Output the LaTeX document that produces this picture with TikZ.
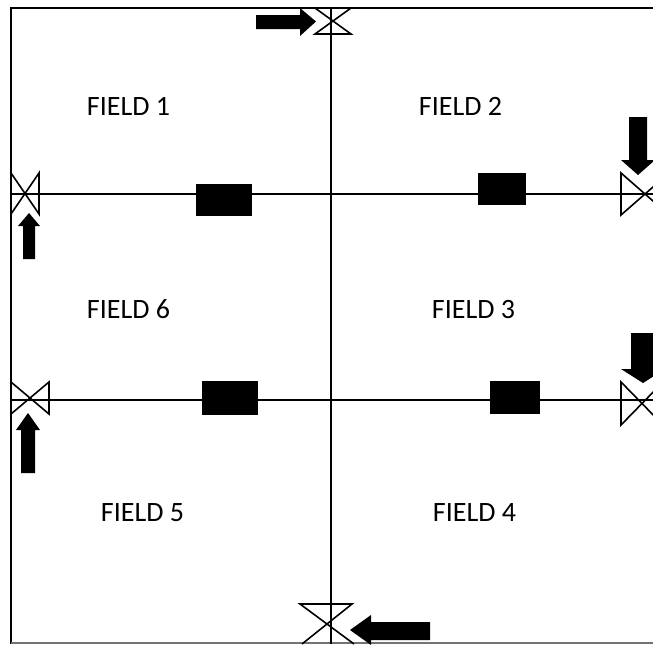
\documentclass[tikz,border=0pt]{standalone}
\usepackage{fontspec}
\setmainfont{Carlito}
\tikzset{
  line/.style={draw=black,line width=1.6pt*0.75},
  valve/.style={draw=black,line width=1.6pt*0.75,line join=miter},
  flow/.style={fill=black,draw=none},
  lab/.style={font=\fontsize{21pt}{24pt}\selectfont,inner sep=0pt,text=black,anchor=base},
}
\begin{document}
\begin{tikzpicture}[x=0.75pt,y=-0.75pt]
\useasboundingbox (0,0) rectangle (653,644);
\clip (0,0) rectangle (653,644);
% frame
\draw[line] (11,644) -- (11,8) -- (670,8);
\draw[draw=black!55,line width=1.2pt] (11,643) -- (653,643);
% named points
\coordinate (vb) at (331,644);
\coordinate (vtop) at (331,8);
\coordinate (h1l) at (11,194);
\coordinate (h1r) at (670,194);
\coordinate (h2l) at (11,400);
\coordinate (h2r) at (670,400);
% pipes
\draw[line] (vtop) -- (vb);
\draw[line,line width=1pt] (h1l) -- (h1r);
\draw[line,line width=1pt] (h2l) -- (h2r);
% valves
\draw[valve] (315,8) -- (351,34) -- (315,34) -- (351,8) -- cycle;
\draw[valve] (11,173) -- (39,214) -- (39,173) -- (11,214) -- cycle;
\draw[valve] (11,382) -- (49,414) -- (49,382) -- (11,414) -- cycle;
\draw[valve] (621,173) -- (669,215) -- (669,173) -- (621,215) -- cycle;
\draw[valve] (621,382) -- (663,425) -- (663,382) -- (621,425) -- cycle;
\draw[valve] (354,644) -- (300,604) -- (352,604) -- (302,644);
% blocks
\fill (196,184) rectangle (252,216);
\fill (478,173) rectangle (526,205);
\fill (202,381) rectangle (258,415);
\fill (490,381) rectangle (540,414);
% arrows
\fill[flow] (256,15) -- (300,15) -- (300,8) -- (316,21.5) -- (300,36) -- (300,29) -- (256,29) -- cycle;
\fill[flow] (23,259) -- (23,226) -- (18,226) -- (29,213) -- (40,226) -- (35,226) -- (35,259) -- cycle;
\fill[flow] (21,473) -- (21,430) -- (16,430) -- (28,413) -- (40,430) -- (35,430) -- (35,473) -- cycle;
\fill[flow] (629,117) -- (647,117) -- (647,160) -- (655,160) -- (638,175) -- (621,160) -- (629,160) -- cycle;
\fill[flow] (631,333) -- (655,333) -- (655,369) -- (665,369) -- (643,383) -- (621,369) -- (631,369) -- cycle;
\fill[flow] (430,622) -- (371,622) -- (371,615) -- (350,630) -- (371,645) -- (371,640) -- (430,640) -- cycle;
% labels
\node[lab] (f1) at (128.5,115) {FIELD 1};
\node[lab] (f2) at (460.5,115) {FIELD 2};
\node[lab] (f3) at (473.5,318) {FIELD 3};
\node[lab] (f4) at (474.5,521) {FIELD 4};
\node[lab] (f5) at (142.5,521) {FIELD 5};
\node[lab] (f6) at (128.5,318) {FIELD 6};
\end{tikzpicture}
\end{document}
